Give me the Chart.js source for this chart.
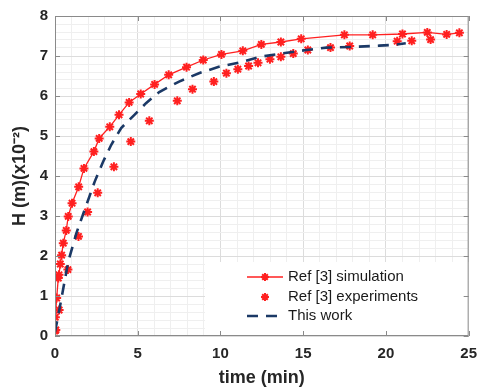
<!DOCTYPE html>
<html>
<head>
<meta charset="utf-8">
<script src="https://cdn.jsdelivr.net/npm/chart.js@4/dist/chart.umd.min.js"></script>
<style>
  html, body { margin: 0; padding: 0; background: #fff; }
  #wrap { width: 486px; height: 387px; }
</style>
</head>
<body>
<div id="wrap"><canvas id="c" width="486" height="387"></canvas></div>
<script>
// ---- data ----
const simTime = [0.05,0.02,0.1,0.2,0.24,0.32,0.4,0.5,0.68,0.8,1.03,1.43,1.75,2.35,2.67,3.31,3.87,4.48,5.18,6.02,6.87,7.95,8.96,10.06,11.35,12.47,13.65,14.88,17.49,19.2,21.0,22.5,23.67,24.44];
const simH    = [0.15,0.47,0.95,1.45,1.53,1.8,2.02,2.32,2.64,2.99,3.32,3.73,4.19,4.61,4.94,5.23,5.53,5.84,6.05,6.29,6.53,6.72,6.9,7.04,7.13,7.29,7.35,7.43,7.53,7.53,7.55,7.59,7.54,7.58];

const expTime = [0.0,0.25,0.78,1.42,1.97,2.58,3.56,4.58,5.7,7.39,8.31,9.6,10.36,11.05,11.7,12.27,12.99,13.65,14.4,15.28,16.65,17.81,20.68,21.56,22.7];
const expH    = [0.13,0.65,1.66,2.49,3.1,3.58,4.23,4.86,5.38,5.88,6.17,6.36,6.57,6.67,6.75,6.83,6.92,6.98,7.06,7.15,7.21,7.25,7.37,7.38,7.41];

const workTime = [0,0.3,0.8,1.3,1.9,2.4,2.9,3.4,4.0,4.8,5.5,6.3,7.5,8.7,9.9,11.2,12.4,13.8,15.2,16.4,18.2,19.6,20.5,21.2];
const workH    = [0.1,0.74,1.86,2.58,3.28,3.86,4.35,4.78,5.2,5.53,5.82,6.1,6.36,6.57,6.73,6.84,6.98,7.07,7.15,7.21,7.23,7.26,7.28,7.32];

const seriesLabels = ['Ref [3] simulation', 'Ref [3] experiments', 'This work'];
const xTickValues = [0,1,2,3,4,5,6,7,8,9,10,11,12,13,14,15,16,17,18,19,20,21,22,23,24,25];
const xMajorTicks = [0,5,10,15,20,25];
const yTickValues = [];
for (let i = 0; i <= 40; i++) yTickValues.push(Math.round(i * 2) / 10);
const yMajorTicks = [0,1,2,3,4,5,6,7,8];

const RED = '#ff2020';
const NAVY = '#1b3966';

function pts(xs, ys) { return xs.map((x, i) => ({x: x, y: ys[i]})); }
function isMajor(v, majors) { return majors.some(m => Math.abs(m - v) < 1e-6); }

function drawAsterisk(ctx, x, y, r, color, lw) {
  ctx.save();
  ctx.strokeStyle = color;
  ctx.lineWidth = lw;
  ctx.beginPath();
  for (let k = 0; k < 4; k++) {
    const a = k * Math.PI / 4;
    ctx.moveTo(x - r * Math.cos(a), y - r * Math.sin(a));
    ctx.lineTo(x + r * Math.cos(a), y + r * Math.sin(a));
  }
  ctx.stroke();
  ctx.restore();
}

const framePlugin = {
  id: 'frame',
  afterDraw(chart) {
    const {ctx, chartArea: a, scales} = chart;
    // legend box
    const lx = 205, ly = 262, lr = a.right, lb = a.bottom;
    ctx.save();
    ctx.fillStyle = '#ffffff';
    ctx.fillRect(lx, ly, lr - lx, lb - ly);
    const rows = [277, 297, 316];
    ctx.font = '15px "Liberation Sans", Arial, sans-serif';
    ctx.textBaseline = 'middle';
    ctx.textAlign = 'left';
    ctx.fillStyle = '#1a1a1a';
    // row 1: line with asterisk
    ctx.strokeStyle = RED; ctx.lineWidth = 1.3;
    ctx.beginPath(); ctx.moveTo(247, rows[0]); ctx.lineTo(283, rows[0]); ctx.stroke();
    drawAsterisk(ctx, 265, rows[0], 4, RED, 2);
    // row 2: asterisk only
    drawAsterisk(ctx, 265, rows[1], 4, RED, 2);
    // row 3: dashed line
    ctx.strokeStyle = NAVY; ctx.lineWidth = 2.6; ctx.setLineDash([11, 8]);
    ctx.beginPath(); ctx.moveTo(247, rows[2]); ctx.lineTo(283, rows[2]); ctx.stroke();
    ctx.setLineDash([]);
    chart.data.datasets.forEach((ds, i) => {
      ctx.fillText(ds.label, 288, rows[i]);
    });
    // frame and inward ticks
    ctx.strokeStyle = '#8a8a8a';
    ctx.lineWidth = 1;
    ctx.strokeRect(a.left + 0.5, a.top + 0.5, a.right - a.left - 1, a.bottom - a.top - 1);
    ctx.beginPath();
    const tl = 5;
    xMajorTicks.forEach(v => {
      const px = Math.round(scales.x.getPixelForValue(v)) + 0.5;
      ctx.moveTo(px, a.bottom); ctx.lineTo(px, a.bottom - tl);
      ctx.moveTo(px, a.top); ctx.lineTo(px, a.top + tl);
    });
    yMajorTicks.forEach(v => {
      const py = Math.round(scales.y.getPixelForValue(v)) + 0.5;
      ctx.moveTo(a.left, py); ctx.lineTo(a.left + tl, py);
      ctx.moveTo(a.right, py); ctx.lineTo(a.right - tl, py);
    });
    ctx.stroke();
    ctx.restore();
  }
};

new Chart(document.getElementById('c'), {
  type: 'scatter',
  data: {
    datasets: [
      {
        label: seriesLabels[0],
        data: pts(simTime, simH),
        showLine: true,
        borderColor: RED,
        backgroundColor: RED,
        borderWidth: 1.3,
        pointStyle: 'star',
        pointRadius: 4.5,
        pointBorderWidth: 2,
        pointBorderColor: RED,
        tension: 0,
        order: 2
      },
      {
        label: seriesLabels[1],
        data: pts(expTime, expH),
        showLine: false,
        borderColor: RED,
        backgroundColor: RED,
        pointStyle: 'star',
        pointRadius: 4.5,
        pointBorderWidth: 2,
        pointBorderColor: RED,
        order: 3
      },
      {
        label: seriesLabels[2],
        data: pts(workTime, workH),
        showLine: true,
        borderColor: NAVY,
        borderWidth: 2.6,
        borderDash: [11, 8],
        pointRadius: 0,
        tension: 0,
        order: 1
      }
    ]
  },
  options: {
    responsive: false,
    animation: false,
    layout: { padding: { top: 16, right: 16, left: 0, bottom: 0 } },
    plugins: {
      legend: { display: false },
      tooltip: { enabled: false }
    },
    scales: {
      x: {
        type: 'linear',
        min: 0, max: 25,
        afterBuildTicks(scale) { scale.ticks = xTickValues.map(v => ({value: v})); },
        afterFit(scale) { scale.height = 51; },
        border: { display: false },
        grid: {
          drawTicks: false,
          color: ctx => isMajor(ctx.tick.value, xMajorTicks) ? '#dcdcdc' : '#efefef',
          lineWidth: 1
        },
        ticks: {
          autoSkip: false,
          maxRotation: 0,
          padding: 9,
          color: '#262626',
          font: { family: '"Liberation Sans", Arial, sans-serif', size: 15, weight: 'bold' },
          callback: v => isMajor(v, xMajorTicks) ? String(Math.round(v)) : ''
        },
        title: {
          display: true,
          text: 'time (min)',
          color: '#262626',
          padding: { top: 0, bottom: 0 },
          font: { family: '"Liberation Sans", Arial, sans-serif', size: 18, weight: 'bold', lineHeight: 1 }
        }
      },
      y: {
        type: 'linear',
        min: 0, max: 8,
        afterBuildTicks(scale) { scale.ticks = yTickValues.map(v => ({value: v})); },
        afterFit(scale) { scale.width = 55; },
        border: { display: false },
        grid: {
          drawTicks: false,
          color: ctx => isMajor(ctx.tick.value, yMajorTicks) ? '#dcdcdc' : '#efefef',
          lineWidth: 1
        },
        ticks: {
          autoSkip: false,
          padding: 7,
          color: '#262626',
          font: { family: '"Liberation Sans", Arial, sans-serif', size: 15, weight: 'bold' },
          callback: v => isMajor(v, yMajorTicks) ? String(Math.round(v)) : ''
        },
        title: {
          display: true,
          text: 'H (m)(x10⁻²)',
          color: '#262626',
          padding: { top: 11, bottom: 0 },
          font: { family: '"Liberation Sans", Arial, sans-serif', size: 18, weight: 'bold', lineHeight: 1 }
        }
      }
    }
  },
  plugins: [framePlugin]
});
</script>
</body>
</html>
